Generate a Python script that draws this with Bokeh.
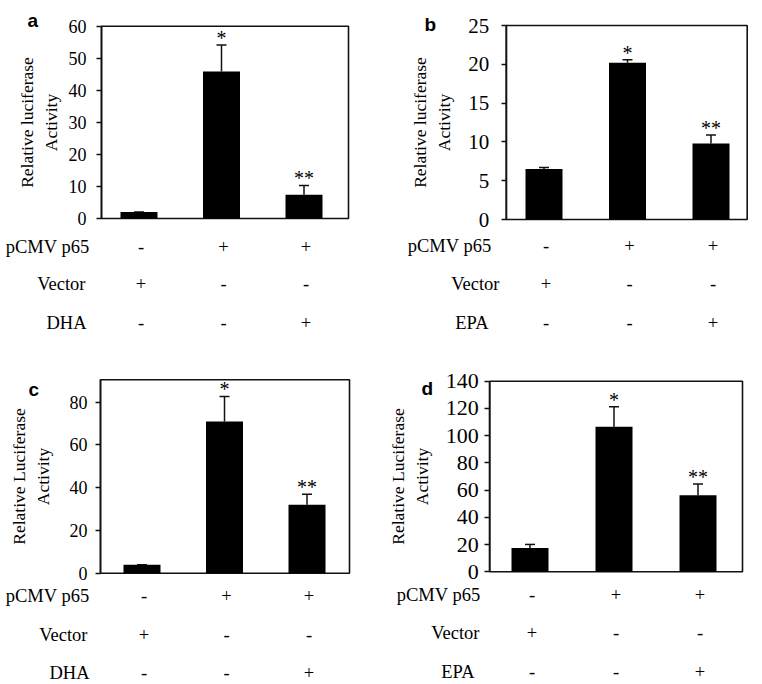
from bokeh.plotting import figure
from bokeh.models import (Range1d, FixedTicker, ColumnDataSource, Whisker,
                          TeeHead, LinearAxis)
from bokeh.layouts import column, row
from bokeh.embed import file_html
from bokeh.resources import INLINE
from bokeh.core.properties import value

# ---------------- data ----------------
positions = [0, 1, 2]

a_values = [2.0, 45.9, 7.4]
a_upper = [2.0, 54.1, 10.3]
a_stars = ["", "*", "**"]

b_values = [6.5, 20.2, 9.8]
b_upper = [6.7, 20.6, 10.9]
b_stars = ["", "*", "**"]

c_values = [3.9, 71.0, 32.0]
c_upper = [3.9, 82.7, 37.0]
c_stars = ["", "*", "**"]

d_values = [17.4, 106.5, 56.3]
d_upper = [20.1, 121.2, 64.4]
d_stars = ["", "*", "**"]

row_p65 = ["-", "+", "+"]
row_vector = ["+", "-", "-"]
row_treat = ["-", "-", "+"]

a_row_names = ["pCMV p65", "Vector", "DHA"]
b_row_names = ["pCMV p65", "Vector", "EPA"]
c_row_names = ["pCMV p65", "Vector", "DHA"]
d_row_names = ["pCMV p65", "Vector", "EPA"]

a_ylabel = "Relative luciferase\nActivity"
b_ylabel = "Relative luciferase\nActivity"
c_ylabel = "Relative Luciferase\nActivity"
d_ylabel = "Relative Luciferase\nActivity"

a_ticks = [0, 10, 20, 30, 40, 50, 60]
b_ticks = [0, 5, 10, 15, 20, 25]
c_ticks = [0, 20, 40, 60, 80]
d_ticks = [0, 20, 40, 60, 80, 100, 120, 140]

a_ymax, b_ymax, c_ymax, d_ymax = 60, 25, 90.5, 140

SERIF = "Liberation Serif"
FS = "17.5px"
ROW_FS = "18.5px"
W, H_TOP, H_BOT = 381, 342, 342


def panel(letter, values, upper, stars, row_names, ylabel, ticks, ymax,
          box, bar0, unit, size, tick_fs, tick_standoff, label_standoff,
          row_y, name_x, letter_pos):
    """box = (left, right, top, bottom) of the chart box in canvas pixels;
    bar0 = pixel x of the first bar centre; unit = pixels between bars."""
    w, h = size
    L, R, T, B = box
    yscale = ymax / (B - T)          # data units per pixel (y)

    def px2x(px):
        return (px - bar0) / unit

    def px2y(py):
        return (B - py) * yscale

    p = figure(width=w, height=h,
               x_range=Range1d(px2x(0), px2x(w)),
               y_range=Range1d(px2y(h), px2y(0)),
               x_axis_type=None, y_axis_type=None,
               min_border=0, min_border_left=0, min_border_right=0,
               min_border_top=0, min_border_bottom=0,
               output_backend="svg", toolbar_location=None)
    p.grid.visible = False
    p.outline_line_color = None
    p.background_fill_color = "white"
    p.border_fill_color = "white"

    xl, xr_ = px2x(L), px2x(R)

    # chart box
    p.quad(left=[xl], right=[xr_], bottom=[0], top=[ymax],
           fill_color=None, line_color="#111111", line_width=1.6)

    ax = LinearAxis(fixed_location=xl, bounds=(0, ymax))
    ax.ticker = FixedTicker(ticks=ticks)
    ax.minor_tick_line_color = None
    ax.major_tick_in = 0
    ax.major_tick_out = 5
    ax.major_tick_line_width = 1.4
    ax.major_tick_line_color = "#111111"
    ax.axis_line_color = "#111111"
    ax.axis_line_width = 1.6
    ax.major_label_text_font = SERIF
    ax.major_label_text_font_size = tick_fs
    ax.major_label_text_color = "black"
    ax.major_label_standoff = tick_standoff
    ax.axis_label = ylabel
    ax.axis_label_text_font = SERIF
    ax.axis_label_text_font_size = FS
    ax.axis_label_text_font_style = "normal"
    ax.axis_label_text_color = "black"
    ax.axis_label_standoff = label_standoff
    p.add_layout(ax, "left")

    src = ColumnDataSource(dict(x=positions, top=values, upper=upper,
                                stars=stars))
    p.vbar(x="x", top="top", width=37 / unit, source=src,
           fill_color="black", line_color=None)
    wh = Whisker(base="x", upper="upper", lower="top", source=src,
                 dimension="height", line_width=1.5, line_color="#111111",
                 upper_head=TeeHead(size=10, line_width=1.5,
                                    line_color="#111111"),
                 lower_head=None)
    p.add_layout(wh)
    p.text(x="x", y="upper", text="stars", source=src,
           text_font=value(SERIF), text_font_size="20px",
           text_align="center", text_baseline="alphabetic",
           y_offset=-7, text_color="black")

    # treatment rows below the chart
    rows = [row_p65, row_vector, row_treat]
    nx, ny, nt = [], [], []
    sx, sy, st = [], [], []
    for name, syms, ry, nxp in zip(row_names, rows, row_y, name_x):
        nx.append(px2x(nxp))
        ny.append(px2y(ry))
        nt.append(name)
        for xi, s in zip(positions, syms):
            sx.append(xi)
            sy.append(px2y(ry))
            st.append(s)
    p.text(x=nx, y=ny, text=nt, text_font=value(SERIF), text_font_size=ROW_FS,
           text_align="right", text_baseline="middle", text_color="black")
    p.text(x=sx, y=sy, text=st, text_font=value(SERIF), text_font_size=ROW_FS,
           text_align="center", text_baseline="middle", text_color="black",
           x_offset=2)

    p.text(x=[px2x(letter_pos[0])], y=[px2y(letter_pos[1])], text=[letter],
           text_font=value("Liberation Sans"), text_font_style="bold",
           text_font_size="19px", text_align="left",
           text_baseline="alphabetic", text_color="black")
    return p


pa = panel("a", a_values, a_upper, a_stars, a_row_names, a_ylabel, a_ticks,
           a_ymax, (101, 348, 25.7, 218), 138.5, 82.5, (W, H_TOP),
           "18px", 10, 5,
           [246, 283, 322], [89, 85, 86], (27, 20))
pb = panel("b", b_values, b_upper, b_stars, b_row_names, b_ylabel, b_ticks,
           b_ymax, (124.7, 365.7, 25, 219), 162.5, 83.5, (W, H_TOP),
           "21px", 12, 12,
           [245, 283, 322], [110, 118, 107], (43, 24))
pc = panel("c", c_values, c_upper, c_stars, c_row_names, c_ylabel, c_ticks,
           c_ymax, (100, 349, 37.3, 230.7), 141.5, 82.5, (W, H_BOT),
           "18px", 8, 14,
           [253, 292, 330], [89, 87, 89], (28, 47))
pd_ = panel("d", d_values, d_upper, d_stars, d_row_names, d_ylabel, d_ticks,
            d_ymax, (108.3, 361, 38.7, 229.3), 148.5, 84, (W, H_BOT),
            "22px", 6, 11,
            [252, 290, 329], [99, 98, 93], (40, 46))

layout = column(row(pa, pb), row(pc, pd_))
open("out.html", "w").write(file_html(layout, INLINE))
